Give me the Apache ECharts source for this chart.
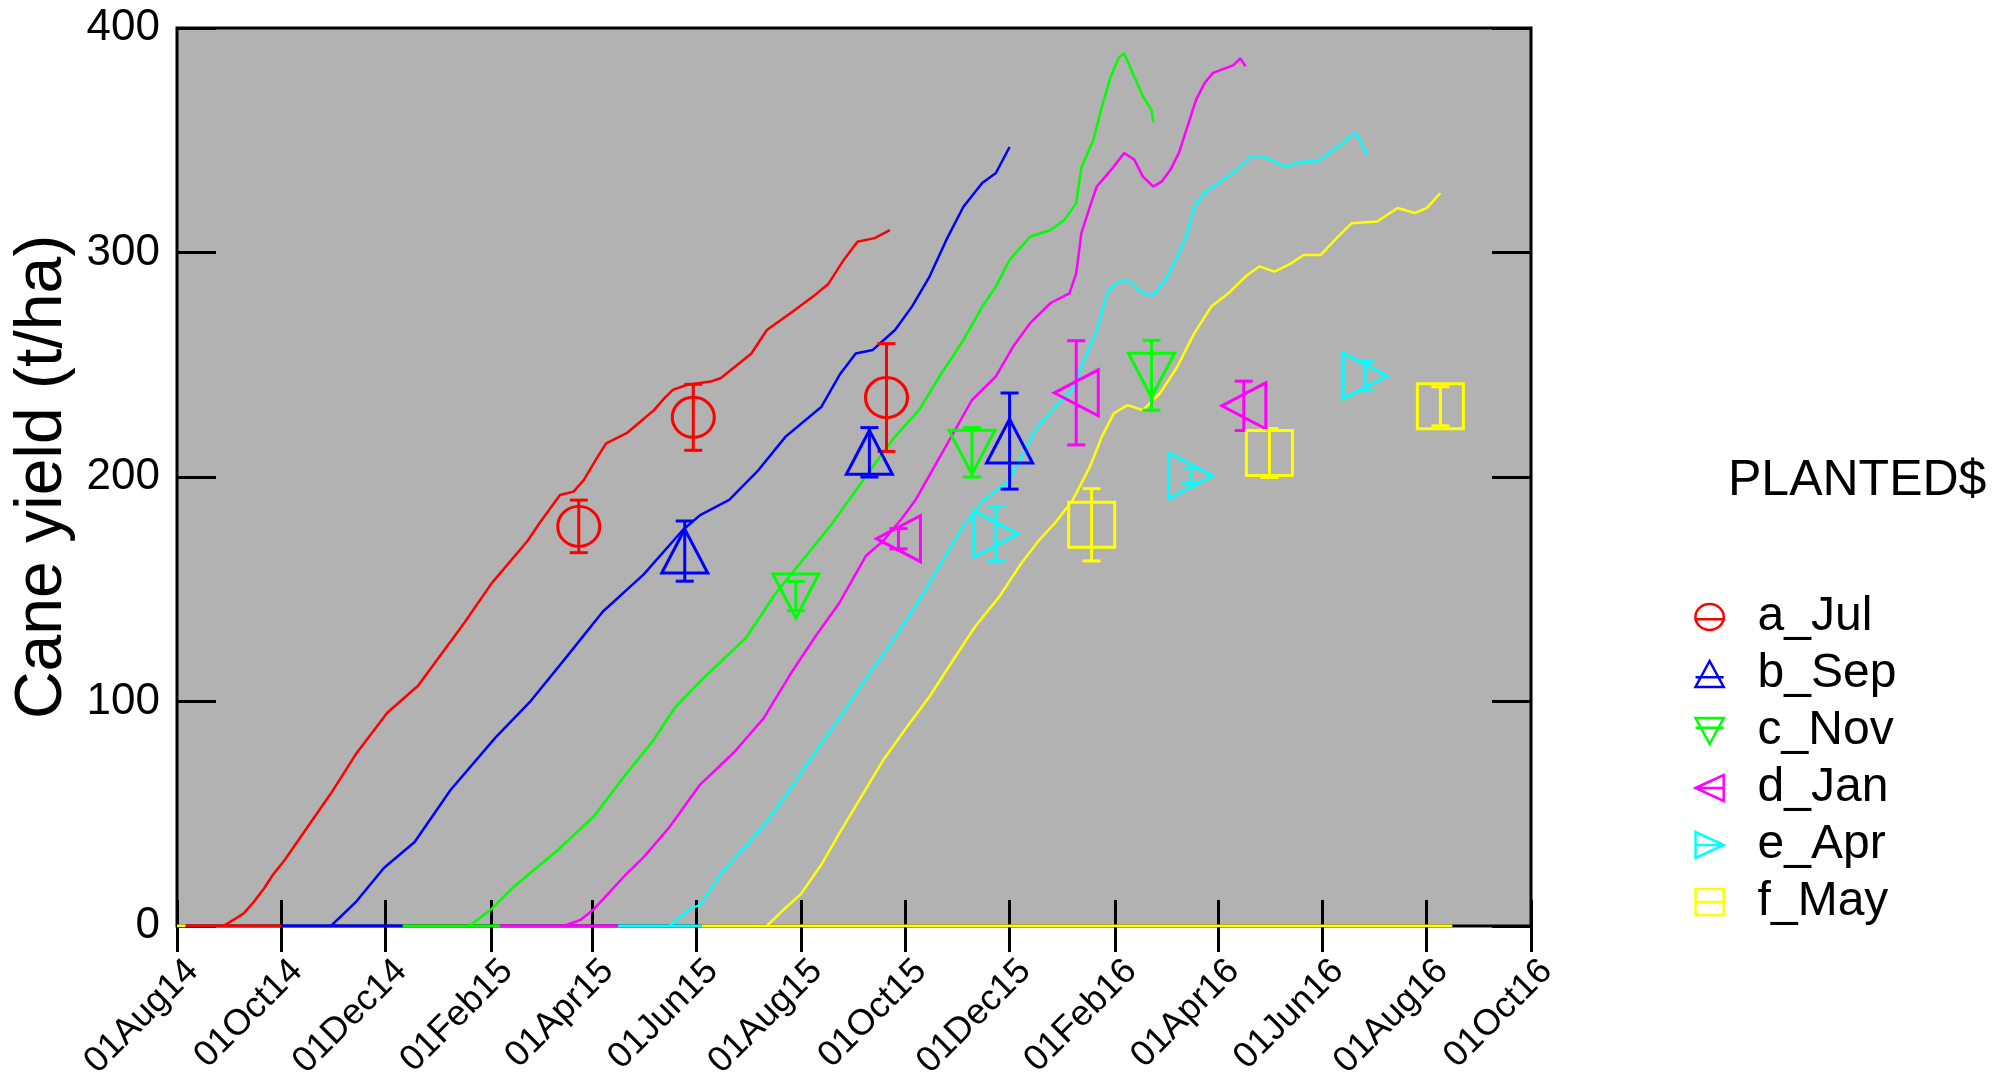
<!DOCTYPE html>
<html>
<head>
<meta charset="utf-8">
<script src="https://cdn.jsdelivr.net/npm/echarts@6/dist/echarts.min.js"></script>
<style>
  html, body { margin: 0; padding: 0; background: #ffffff; }
  #chart { width: 2016px; height: 1083px; }
</style>
</head>
<body>
<div id="chart"></div>
<script>
// Planting groups and their colours
const plantings = ['a_Jul', 'b_Sep', 'c_Nov', 'd_Jan', 'e_Apr', 'f_May'];
const colours = ['#ff0000', '#0000ff', '#00ff00', '#ff00ff', '#00ffff', '#ffff00'];

// Axis ticks
const xTickDates = ['2014-08-01', '2014-10-01', '2014-12-01', '2015-02-01', '2015-04-01', '2015-06-01',
  '2015-08-01', '2015-10-01', '2015-12-01', '2016-02-01', '2016-04-01', '2016-06-01', '2016-08-01', '2016-10-01'];
const yTicks = [0, 100, 200, 300, 400];

// Simulated cane yield (t/ha) by date
const simJul = [['2014-08-28', 0], ['2014-09-03', 2.7], ['2014-09-09', 5.6], ['2014-09-15', 10.8], ['2014-09-21', 16.8],
  ['2014-09-26', 22.7], ['2014-10-03', 29.4], ['2014-10-19', 47], ['2014-10-30', 59], ['2014-11-14', 77],
  ['2014-12-02', 95], ['2014-12-20', 107], ['2015-01-16', 135], ['2015-02-01', 152.6], ['2015-02-22', 171.5],
  ['2015-03-01', 179.4], ['2015-03-13', 192], ['2015-03-21', 193.5], ['2015-03-27', 198.7], ['2015-04-04', 209],
  ['2015-04-09', 215], ['2015-04-21', 219.5], ['2015-04-29', 224.6], ['2015-05-07', 229.8], ['2015-05-13', 235],
  ['2015-05-18', 238.8], ['2015-05-26', 241], ['2015-06-09', 242.5], ['2015-06-15', 244], ['2015-07-03', 255],
  ['2015-07-12', 265.5], ['2015-07-27', 273.6], ['2015-08-09', 281], ['2015-08-17', 286], ['2015-08-26', 296.7],
  ['2015-09-03', 304.8], ['2015-09-13', 306.4], ['2015-09-22', 310]];
const simSep = [['2014-10-30', 0], ['2014-11-14', 11], ['2014-11-30', 25.8], ['2014-12-18', 37.4], ['2015-01-08', 60.6],
  ['2015-02-03', 83.7], ['2015-02-24', 100.3], ['2015-03-17', 120], ['2015-04-07', 140], ['2015-05-01', 156.6],
  ['2015-05-24', 176.5], ['2015-06-03', 183], ['2015-06-20', 189.8], ['2015-07-07', 203], ['2015-07-23', 218],
  ['2015-08-13', 231.3], ['2015-08-24', 246], ['2015-09-02', 255], ['2015-09-12', 256.6], ['2015-09-25', 265.5],
  ['2015-10-05', 276], ['2015-10-15', 289], ['2015-10-25', 305.6], ['2015-11-04', 320.4], ['2015-11-15', 331],
  ['2015-11-23', 335.4], ['2015-12-01', 347]];
const simNov = [['2015-01-19', 0], ['2015-02-01', 7.6], ['2015-02-14', 17.5], ['2015-03-12', 34], ['2015-04-02', 49],
  ['2015-04-20', 67], ['2015-05-06', 82], ['2015-05-19', 97], ['2015-06-03', 109], ['2015-06-30', 128.5],
  ['2015-07-17', 148], ['2015-08-02', 163], ['2015-08-19', 179], ['2015-08-29', 189.8], ['2015-09-12', 204.6],
  ['2015-09-25', 218], ['2015-10-09', 229.8], ['2015-10-22', 246], ['2015-11-04', 261], ['2015-11-15', 275.9],
  ['2015-11-23', 284.8], ['2015-12-01', 296.7], ['2015-12-13', 307], ['2015-12-25', 310], ['2016-01-02', 314.5],
  ['2016-01-09', 322], ['2016-01-12', 338], ['2016-01-19', 350], ['2016-01-24', 365], ['2016-01-29', 378],
  ['2016-02-03', 387], ['2016-02-06', 388.8], ['2016-02-11', 380], ['2016-02-17', 369.5], ['2016-02-22', 363.5],
  ['2016-02-23', 358]];
const simJan = [['2015-03-15', 0], ['2015-03-25', 2.7], ['2015-04-02', 7.6], ['2015-04-20', 22.5], ['2015-05-01', 30.7],
  ['2015-05-16', 44], ['2015-06-03', 63], ['2015-06-23', 77.5], ['2015-07-10', 92.4], ['2015-07-27', 113.6],
  ['2015-08-09', 128.5], ['2015-08-23', 143.4], ['2015-09-08', 164.9], ['2015-09-18', 171.5], ['2015-09-29', 181.5],
  ['2015-10-07', 189.8], ['2015-10-18', 204.6], ['2015-10-29', 219.4], ['2015-11-09', 234.3], ['2015-11-23', 244.8],
  ['2015-12-03', 258], ['2015-12-13', 268.5], ['2015-12-25', 277.5], ['2016-01-05', 281.8], ['2016-01-09', 290.8],
  ['2016-01-12', 308.6], ['2016-01-17', 320.4], ['2016-01-21', 329.4], ['2016-01-26', 333.8], ['2016-01-31', 338.3],
  ['2016-02-06', 344.3], ['2016-02-12', 341.3], ['2016-02-17', 333.8], ['2016-02-23', 329.4], ['2016-02-28', 331.6],
  ['2016-03-04', 336.7], ['2016-03-09', 344.3], ['2016-03-14', 356], ['2016-03-19', 367.9], ['2016-03-24', 375.4],
  ['2016-03-29', 380], ['2016-04-05', 382], ['2016-04-10', 383.5], ['2016-04-14', 386.5], ['2016-04-17', 382.9]];
const simApr = [['2015-05-16', 0], ['2015-05-28', 7.6], ['2015-06-03', 9.4], ['2015-06-16', 24.2], ['2015-06-30', 35.8],
  ['2015-07-13', 47.4], ['2015-07-27', 62.4], ['2015-08-09', 77.2], ['2015-08-23', 92.1], ['2015-09-08', 110.3],
  ['2015-09-22', 125.2], ['2015-10-09', 145], ['2015-10-22', 161.6], ['2015-11-04', 178.2], ['2015-11-16', 189.8],
  ['2015-12-01', 198.7], ['2015-12-16', 221], ['2015-12-28', 231.4], ['2016-01-07', 238.8], ['2016-01-12', 249],
  ['2016-01-21', 265.5], ['2016-01-27', 281.8], ['2016-02-01', 286.2], ['2016-02-08', 287.7], ['2016-02-17', 281.8],
  ['2016-02-23', 281], ['2016-03-01', 287.7], ['2016-03-08', 298], ['2016-03-14', 308.6], ['2016-03-18', 320.4],
  ['2016-03-24', 326.5], ['2016-04-04', 332.4], ['2016-04-12', 336.8], ['2016-04-20', 342.7], ['2016-04-27', 342.7],
  ['2016-05-04', 340.5], ['2016-05-10', 338.3], ['2016-05-21', 340.5], ['2016-05-29', 340.5], ['2016-06-06', 345],
  ['2016-06-13', 348.8], ['2016-06-20', 353.5], ['2016-06-23', 350], ['2016-06-27', 343.4]];
const simMay = [['2015-07-12', 0], ['2015-07-20', 6], ['2015-08-01', 14.3], ['2015-08-13', 27.5], ['2015-08-23', 40.7],
  ['2015-09-05', 57.3], ['2015-09-18', 73.8], ['2015-10-02', 88.7], ['2015-10-15', 102], ['2015-10-29', 118.5],
  ['2015-11-11', 133.5], ['2015-11-25', 146.7], ['2015-12-08', 161.7], ['2015-12-18', 171.6], ['2015-12-28', 179.9],
  ['2016-01-07', 189.8], ['2016-01-17', 204.6], ['2016-01-24', 218], ['2016-01-31', 228.4], ['2016-02-08', 232],
  ['2016-02-17', 229.8], ['2016-02-27', 237.3], ['2016-03-08', 249], ['2016-03-18', 264], ['2016-03-28', 275.9],
  ['2016-04-07', 281.8], ['2016-04-17', 289.3], ['2016-04-25', 293.8], ['2016-05-04', 291.5], ['2016-05-14', 295.3],
  ['2016-05-21', 298.9], ['2016-05-31', 298.9], ['2016-06-10', 307], ['2016-06-18', 313], ['2016-07-03', 313.8],
  ['2016-07-15', 319.8], ['2016-07-25', 317.6], ['2016-08-01', 319.8], ['2016-08-09', 326.5]];

// Periods where each group sits at zero yield (start, end)
const zeroJul = [['2014-08-06', '2014-10-01']];
const zeroSep = [['2014-10-01', '2014-12-11']];
const zeroNov = [['2014-12-11', '2015-02-06']];
const zeroJan = [['2015-02-06', '2015-04-16']];
const zeroApr = [['2015-04-16', '2015-06-04']];
const zeroMay = [['2014-08-01', '2014-08-06'], ['2015-06-04', '2016-08-16']];

// Measured yield: date, mean, standard error
const obsJul = [['2015-03-24', 178, 11.7], ['2015-05-30', 226.6, 14.7], ['2015-09-20', 235.4, 24]];
const obsSep = [['2015-05-25', 167, 13.4], ['2015-09-10', 211, 11], ['2015-12-01', 216, 21.4]];
const obsNov = [['2015-07-29', 147, 6.5], ['2015-11-09', 211, 11], ['2016-02-22', 245.3, 15.6]];
const obsJan = [['2015-09-27', 172.5, 4.5], ['2016-01-09', 237.5, 23.2], ['2016-04-16', 231.7, 11]];
const obsApr = [['2015-11-23', 174.7, 12.1], ['2016-03-16', 200.5, 3.3], ['2016-06-26', 245, 6.5]];
const obsMay = [['2016-01-18', 178.7, 16.1], ['2016-05-01', 210.7, 10.9], ['2016-08-09', 231.5, 8.7]];

const simulated = [simJul, simSep, simNov, simJan, simApr, simMay];
const zeroRuns = [zeroJul, zeroSep, zeroNov, zeroJan, zeroApr, zeroMay];
const observed = [obsJul, obsSep, obsNov, obsJan, obsApr, obsMay];

// ---- drawing ----
const FONT = "'Liberation Sans', Arial, Helvetica, sans-serif";
const MONTHS = ['Jan', 'Feb', 'Mar', 'Apr', 'May', 'Jun', 'Jul', 'Aug', 'Sep', 'Oct', 'Nov', 'Dec'];

// dates are placed on a numeric (millisecond) axis
function ts(s) {
  const p = s.split('-').map(Number);
  return new Date(p[0], p[1] - 1, p[2]).getTime();
}
function dateLabel(v) {
  const d = new Date(v);
  return String(d.getDate()).padStart(2, '0') + MONTHS[d.getMonth()] + String(d.getFullYear()).slice(2);
}

// Marker shapes per group
const markerShape = [
  { symbol: 'circle', size: [42, 40], rotate: 0 },
  { symbol: 'triangle', size: [46, 44], rotate: 0 },
  { symbol: 'triangle', size: [46, 44], rotate: 180 },
  { symbol: 'triangle', size: [46, 44], rotate: 90 },
  { symbol: 'triangle', size: [46, 44], rotate: -90 },
  { symbol: 'rect', size: [46, 45], rotate: 0 }
];
const legendIcons = [
  'path://M1,12a12,11 0 1,0 24,0a12,11 0 1,0 -24,0zM0,14L26,14',
  'path://M13,0L26,24L0,24zM0,15L26,15',
  'path://M0,0L26,0L13,24zM0,9L26,9',
  'path://M0,12L26,0L26,24zM0,12L26,12',
  'path://M0,0L26,12L0,24zM0,12L26,12',
  'path://M0,0L26,0L26,24L0,24zM0,12L26,12'
];

function errorBarItem(params, api) {
  const x = api.value(0);
  const lo = api.coord([x, api.value(1)]);
  const hi = api.coord([x, api.value(2)]);
  const half = 9;
  const style = { stroke: api.visual('color'), lineWidth: 3, fill: null };
  return {
    type: 'group',
    children: [
      { type: 'line', shape: { x1: lo[0], y1: lo[1], x2: hi[0], y2: hi[1] }, style: style },
      { type: 'line', shape: { x1: lo[0] - half, y1: lo[1], x2: lo[0] + half, y2: lo[1] }, style: style },
      { type: 'line', shape: { x1: hi[0] - half, y1: hi[1], x2: hi[0] + half, y2: hi[1] }, style: style }
    ]
  };
}

const series = [];
// markers first so the legend takes its icon styling from them
plantings.forEach((name, i) => {
  series.push({
    name: name, type: 'scatter', z: 5,
    symbol: markerShape[i].symbol, symbolSize: markerShape[i].size, symbolRotate: markerShape[i].rotate,
    itemStyle: { color: 'rgba(0,0,0,0)', borderColor: colours[i], borderWidth: 3, opacity: 1 },
    data: observed[i].map(o => [ts(o[0]), o[1]])
  });
});
plantings.forEach((name, i) => {
  series.push({
    name: name, type: 'custom', z: 5,
    itemStyle: { color: colours[i] },
    renderItem: errorBarItem,
    encode: { x: 0, y: [1, 2] },
    data: observed[i].map(o => [ts(o[0]), o[1] - o[2], o[1] + o[2]])
  });
});
plantings.forEach((name, i) => {
  series.push({
    name: name, type: 'line', z: 3, showSymbol: false, symbol: 'none',
    lineStyle: { color: colours[i], width: 2.5 },
    itemStyle: { color: colours[i] },
    data: simulated[i].map(p => [ts(p[0]), p[1]])
  });
});
plantings.forEach((name, i) => {
  const pts = [];
  zeroRuns[i].forEach(r => {
    pts.push([ts(r[0]), 0], [ts(r[1]), 0], [ts(r[1]), null]);
  });
  series.push({
    name: name, type: 'line', z: 4, showSymbol: false, symbol: 'none', connectNulls: false,
    lineStyle: { color: colours[i], width: 3 },
    itemStyle: { color: colours[i] },
    data: pts
  });
});

const xMin = ts(xTickDates[0]);
const xMax = ts(xTickDates[xTickDates.length - 1]);
const xTicks = xTickDates.map(ts);
const tickStyle = { color: '#000', width: 3 };

const option = {
  animation: false,
  backgroundColor: '#ffffff',
  title: {
    text: 'PLANTED$', left: 1728, top: 456, padding: 0,
    textStyle: { fontFamily: FONT, fontSize: 50, fontWeight: 'normal', color: '#000' }
  },
  legend: {
    orient: 'vertical', left: 1693, top: 593, padding: 0,
    itemWidth: 86, itemHeight: 26, itemGap: 9, symbolKeepAspect: true, selectedMode: false,
    textStyle: { fontFamily: FONT, fontSize: 48, lineHeight: 48, color: '#000' },
    data: plantings.map((name, i) => ({
      name: name, icon: legendIcons[i],
      itemStyle: { color: 'rgba(0,0,0,0)', borderColor: colours[i], borderWidth: 2.5 }
    }))
  },
  grid: {
    left: 177, right: 485, top: 28, bottom: 157,
    show: true, backgroundColor: '#b2b2b2', borderColor: '#000', borderWidth: 3
  },
  xAxis: [
    {
      type: 'value', position: 'bottom', min: xMin, max: xMax,
      axisLine: { show: false },
      splitLine: { show: false },
      axisTick: { show: true, inside: true, length: 26, lineStyle: tickStyle, customValues: xTicks },
      axisLabel: {
        show: true, customValues: xTicks, rotate: 45, margin: 24,
        verticalAlign: 'top', padding: [4, 0, 0, 0],
        fontFamily: FONT, fontSize: 36, color: '#000',
        formatter: v => dateLabel(v)
      }
    },
    {
      type: 'value', position: 'top', min: xMin, max: xMax,
      axisLine: { show: false },
      splitLine: { show: false },
      axisTick: { show: true, inside: true, length: 26, lineStyle: tickStyle, customValues: xTicks },
      axisLabel: { show: false }
    }
  ],
  yAxis: [
    {
      type: 'value', position: 'left', min: yTicks[0], max: yTicks[yTicks.length - 1], interval: 100,
      name: 'Cane yield (t/ha)', nameLocation: 'middle', nameGap: 92,
      nameTextStyle: { fontFamily: FONT, fontSize: 66, color: '#000' },
      axisLine: { show: false },
      splitLine: { show: false },
      axisTick: { show: true, inside: true, length: 39, lineStyle: tickStyle },
      axisLabel: { fontFamily: FONT, fontSize: 44, color: '#000', margin: 17 }
    },
    {
      type: 'value', position: 'right', min: yTicks[0], max: yTicks[yTicks.length - 1], interval: 100,
      axisLine: { show: false },
      splitLine: { show: false },
      axisTick: { show: true, inside: true, length: 39, lineStyle: tickStyle },
      axisLabel: { show: false }
    }
  ],
  series: series
};

const chart = echarts.init(document.getElementById('chart'), null, { renderer: 'canvas' });
chart.setOption(option);
</script>
</body>
</html>
